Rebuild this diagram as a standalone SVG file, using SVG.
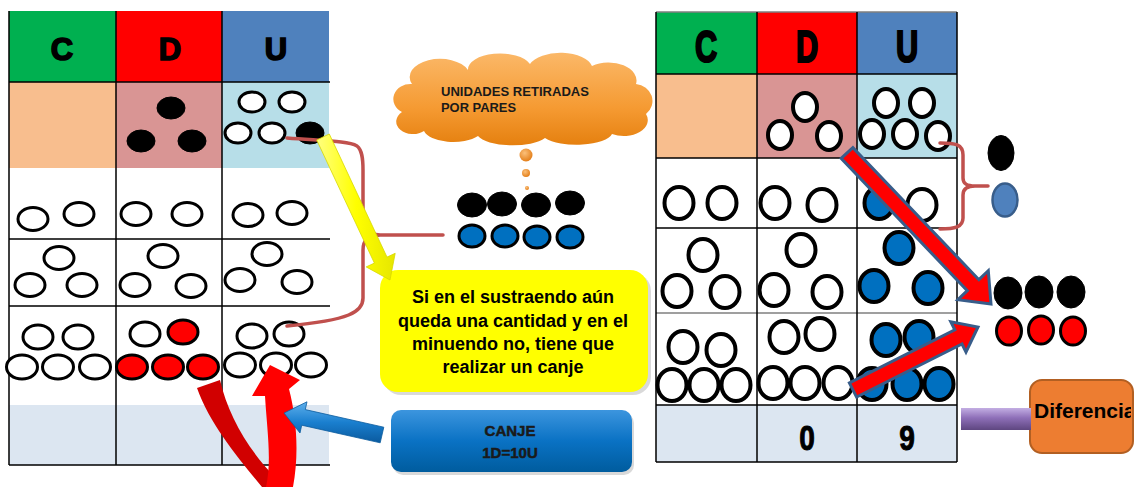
<svg xmlns="http://www.w3.org/2000/svg" width="1135" height="487" viewBox="0 0 1135 487">
<defs>
<style>
.ln{stroke:#000;stroke-width:1.5;fill:none}
.lg{stroke:#808080;stroke-width:1.5;fill:none}
.w{fill:#fff;stroke:#000;stroke-width:3}
.k{fill:#000;stroke:#000;stroke-width:1}
.r{fill:#FF0000;stroke:#000;stroke-width:3}
.bl{fill:#0070C0;stroke:#000;stroke-width:3}
.w4{fill:#fff;stroke:#000;stroke-width:4}
.bl4{fill:#0070C0;stroke:#000;stroke-width:4}
.hdrL{font-family:"Liberation Sans",Arial,sans-serif;font-weight:bold;font-size:31px;text-anchor:middle;fill:#000;stroke:#000;stroke-width:1.6}
.hdrR{font-family:"Liberation Sans",Arial,sans-serif;font-weight:bold;font-size:44px;text-anchor:middle;fill:#000;stroke:#000;stroke-width:2.2}
.num{font-family:"Liberation Sans",Arial,sans-serif;font-weight:bold;font-size:35px;text-anchor:middle;fill:#000;stroke:#000;stroke-width:1}
.note{font-family:"Liberation Sans",Arial,sans-serif;font-weight:bold;font-size:18px;text-anchor:middle;fill:#000}
.sm{font-family:"Liberation Sans",Arial,sans-serif;font-weight:bold;font-size:13px;fill:#1a1a1a}
.brace{fill:none;stroke:#C0504D;stroke-width:3.5;stroke-linecap:round;stroke-linejoin:round}
.rarrow{fill:#FF0000;stroke:#385D8A;stroke-width:3;stroke-linejoin:miter}
</style>
<linearGradient id="gBlue" x1="0" y1="0" x2="0" y2="1">
<stop offset="0" stop-color="#3C95DE"/><stop offset="0.5" stop-color="#0A72C4"/><stop offset="1" stop-color="#005C9E"/>
</linearGradient>
<linearGradient id="gBlueArrow" x1="0" y1="0" x2="0" y2="1">
<stop offset="0" stop-color="#5FB0EC"/><stop offset="0.5" stop-color="#1A7FCF"/><stop offset="1" stop-color="#0A5A9E"/>
</linearGradient>
<linearGradient id="gCloud" x1="0" y1="0" x2="0" y2="1">
<stop offset="0" stop-color="#FBB868"/><stop offset="0.6" stop-color="#F59A32"/><stop offset="1" stop-color="#E5800F"/>
</linearGradient>
<radialGradient id="gBub" cx="0.4" cy="0.35" r="0.7">
<stop offset="0" stop-color="#FBC07A"/><stop offset="1" stop-color="#E27A12"/>
</radialGradient>
<linearGradient id="gYellow" x1="0" y1="0" x2="1" y2="0">
<stop offset="0" stop-color="#FFFF80"/><stop offset="0.5" stop-color="#FFFF00"/><stop offset="1" stop-color="#E6E600"/>
</linearGradient>
<linearGradient id="gPurple" x1="0" y1="0" x2="0" y2="1">
<stop offset="0" stop-color="#C3AEE3"/><stop offset="0.45" stop-color="#8E6FB8"/><stop offset="1" stop-color="#5E4680"/>
</linearGradient>
<clipPath id="difClip"><rect x="1030" y="380" width="101" height="73" rx="12"/></clipPath>
</defs>
<rect width="1135" height="487" fill="#fff"/>

<g id="left-table">
<rect x="9" y="11" width="107" height="71" fill="#00B050"/>
<rect x="116" y="11" width="106" height="71" fill="#FF0000"/>
<rect x="222" y="11" width="107" height="71" fill="#4F81BD"/>
<rect x="9" y="82" width="107" height="86" fill="#F8BE8E"/>
<rect x="116" y="82" width="106" height="86" fill="#D99594"/>
<rect x="222" y="82" width="107" height="86" fill="#B7DEE8"/>
<rect x="9" y="405" width="320" height="60" fill="#DCE6F1"/>
<path class="ln" d="M9,11V465M116,11V465M222,11V465M9,82H330M9,239H330M9,306H330M9,465H330"/>
<text class="hdrL" x="62" y="60">C</text>
<text class="hdrL" x="170" y="60">D</text>
<text class="hdrL" x="276" y="60">U</text>
<ellipse class="k" cx="171" cy="108" rx="14" ry="11"/>
<ellipse class="k" cx="141" cy="141" rx="14" ry="11"/>
<ellipse class="k" cx="192" cy="141" rx="14" ry="11"/>
<ellipse class="w" cx="252" cy="102" rx="13" ry="10"/>
<ellipse class="w" cx="292" cy="102" rx="13" ry="10"/>
<ellipse class="w" cx="238" cy="133" rx="13" ry="10"/>
<ellipse class="w" cx="272" cy="133" rx="13" ry="10"/>
<ellipse class="k" cx="310" cy="133" rx="14" ry="11"/>
<ellipse class="w" cx="33" cy="219" rx="15" ry="11.5"/>
<ellipse class="w" cx="79" cy="214" rx="15" ry="11.5"/>
<ellipse class="w" cx="136" cy="214" rx="15" ry="11.5"/>
<ellipse class="w" cx="187" cy="214" rx="15" ry="11.5"/>
<ellipse class="w" cx="248" cy="215" rx="15" ry="11.5"/>
<ellipse class="w" cx="292" cy="213" rx="15" ry="11.5"/>
<ellipse class="w" cx="59" cy="258" rx="15" ry="11.5"/>
<ellipse class="w" cx="30" cy="285" rx="15" ry="11.5"/>
<ellipse class="w" cx="82" cy="285" rx="15" ry="11.5"/>
<ellipse class="w" cx="163" cy="256" rx="15" ry="11.5"/>
<ellipse class="w" cx="135" cy="285" rx="15" ry="11.5"/>
<ellipse class="w" cx="191" cy="286" rx="15" ry="11.5"/>
<ellipse class="w" cx="267" cy="254" rx="15" ry="11.5"/>
<ellipse class="w" cx="240" cy="280" rx="15" ry="11.5"/>
<ellipse class="w" cx="297" cy="282" rx="15" ry="11.5"/>
<ellipse class="w" cx="38" cy="337" rx="15" ry="12"/>
<ellipse class="w" cx="78" cy="337" rx="15" ry="12"/>
<ellipse class="w" cx="22" cy="367" rx="15.5" ry="12"/>
<ellipse class="w" cx="58" cy="367" rx="15.5" ry="12"/>
<ellipse class="w" cx="95" cy="367" rx="15.5" ry="12"/>
<ellipse class="w" cx="145" cy="334" rx="15" ry="12"/>
<ellipse class="r" cx="183" cy="332" rx="15" ry="12"/>
<ellipse class="r" cx="132" cy="367" rx="15.5" ry="12"/>
<ellipse class="r" cx="168" cy="367" rx="15.5" ry="12"/>
<ellipse class="r" cx="203" cy="367" rx="15.5" ry="12"/>
<ellipse class="w" cx="252" cy="336" rx="15" ry="12"/>
<ellipse class="w" cx="289" cy="334" rx="15" ry="12"/>
<ellipse class="w" cx="240" cy="365" rx="15.5" ry="12"/>
<ellipse class="w" cx="276" cy="365" rx="15.5" ry="12"/>
<ellipse class="w" cx="311" cy="365" rx="15.5" ry="12"/>
</g>

<g id="cloud">
<path fill="url(#gCloud)" d="M402,112 A17,15 0 0 1 412,84 A30,18 0 0 1 468,70 A32,16 0 0 1 530,64 A32,16 0 0 1 592,66 A28,18 0 0 1 636,84 A18,17 0 0 1 646,114 A24,16 0 0 1 612,134 A36,13 0 0 1 545,138 A36,13 0 0 1 478,136 A30,14 0 0 1 424,131 A16,12 0 0 1 402,112 Z"/>
<text class="sm" x="441" y="96" textLength="148" lengthAdjust="spacingAndGlyphs">UNIDADES RETIRADAS</text>
<text class="sm" x="441" y="112" textLength="75" lengthAdjust="spacingAndGlyphs">POR PARES</text>
<circle cx="526" cy="155" r="6.5" fill="url(#gBub)"/>
<circle cx="526" cy="173" r="4" fill="url(#gBub)"/>
<circle cx="527" cy="188" r="2" fill="url(#gBub)"/>
</g>

<g id="removed-pairs">
<ellipse class="k" cx="472" cy="205" rx="14.5" ry="12"/>
<ellipse class="k" cx="502" cy="204" rx="14.5" ry="12"/>
<ellipse class="k" cx="536" cy="205" rx="14.5" ry="12"/>
<ellipse class="k" cx="570" cy="203" rx="14.5" ry="12"/>
<ellipse class="bl" cx="472" cy="236" rx="13" ry="11"/>
<ellipse class="bl" cx="505" cy="236" rx="13" ry="11"/>
<ellipse class="bl" cx="537" cy="237" rx="13" ry="11"/>
<ellipse class="bl" cx="570" cy="237" rx="13" ry="11"/>
</g>

<g id="yellow-note">
<rect x="383" y="273" width="268" height="122" rx="18" fill="#000" opacity="0.15"/>
<rect x="380" y="270" width="268" height="122" rx="18" fill="#FFFF00"/>
<text class="note" x="513" y="303">Si en el sustraendo aún</text>
<text class="note" x="513" y="327">queda una cantidad y en el</text>
<text class="note" x="513" y="350">minuendo no, tiene que</text>
<text class="note" x="513" y="373">realizar un canje</text>
</g>

<g id="canje">
<rect x="393" y="413" width="241" height="62" rx="10" fill="#000" opacity="0.15"/>
<rect x="391" y="410" width="241" height="62" rx="10" fill="url(#gBlue)"/>
<text x="510" y="436" font-family="'Liberation Sans',Arial,sans-serif" font-weight="bold" font-size="15" fill="#1a1a1a" text-anchor="middle" stroke="#1a1a1a" stroke-width="0.5">CANJE</text>
<text x="510" y="458" font-family="'Liberation Sans',Arial,sans-serif" font-weight="bold" font-size="15" fill="#1a1a1a" text-anchor="middle" stroke="#1a1a1a" stroke-width="0.5">1D=10U</text>
</g>

<g id="right-table">
<rect x="656" y="12" width="101" height="62" fill="#00B050"/>
<rect x="757" y="12" width="100" height="62" fill="#FF0000"/>
<rect x="857" y="12" width="100" height="62" fill="#4F81BD"/>
<rect x="656" y="74" width="101" height="84" fill="#F8BE8E"/>
<rect x="757" y="74" width="100" height="84" fill="#D99594"/>
<rect x="857" y="74" width="100" height="84" fill="#B7DEE8"/>
<rect x="656" y="405" width="301" height="57" fill="#DCE6F1"/>
<path class="lg" d="M656,12H957M656,313H957"/>
<path class="ln" d="M656,12V462M757,12V462M857,12V462M957,12V462M656,74H957M656,158H957M656,228H957M656,405H957M656,462H957"/>
<text class="hdrR" transform="translate(706,62) scale(0.7,1)">C</text>
<text class="hdrR" transform="translate(807,62) scale(0.7,1)">D</text>
<text class="hdrR" transform="translate(907,62) scale(0.7,1)">U</text>
<ellipse class="w4" cx="805" cy="107" rx="12" ry="14"/>
<ellipse class="w4" cx="780" cy="135" rx="12" ry="14"/>
<ellipse class="w4" cx="829" cy="136" rx="12" ry="14"/>
<ellipse class="w4" cx="886" cy="103" rx="12" ry="14"/>
<ellipse class="w4" cx="922" cy="103" rx="12" ry="14"/>
<ellipse class="w4" cx="872" cy="134" rx="12" ry="14"/>
<ellipse class="w4" cx="905" cy="134" rx="12" ry="14"/>
<ellipse class="w4" cx="938" cy="136" rx="12" ry="14"/>
<ellipse class="w4" cx="679" cy="203" rx="14.5" ry="16"/>
<ellipse class="w4" cx="722" cy="203" rx="14.5" ry="16"/>
<ellipse class="w4" cx="775" cy="203" rx="14.5" ry="16"/>
<ellipse class="w4" cx="822" cy="205" rx="14.5" ry="16"/>
<ellipse class="bl4" cx="879" cy="203" rx="14.5" ry="16"/>
<ellipse class="w4" cx="922" cy="205" rx="14.5" ry="16"/>
<ellipse class="w4" cx="703" cy="255" rx="14.5" ry="16"/>
<ellipse class="w4" cx="677" cy="291" rx="14.5" ry="16"/>
<ellipse class="w4" cx="725" cy="292" rx="14.5" ry="16"/>
<ellipse class="w4" cx="801" cy="250" rx="14.5" ry="16"/>
<ellipse class="w4" cx="774" cy="290" rx="14.5" ry="16"/>
<ellipse class="w4" cx="827" cy="292" rx="14.5" ry="16"/>
<ellipse class="bl4" cx="899" cy="248" rx="14.5" ry="16"/>
<ellipse class="bl4" cx="874" cy="286" rx="14.5" ry="16"/>
<ellipse class="bl4" cx="928" cy="288" rx="14.5" ry="16"/>
<ellipse class="w4" cx="683" cy="347" rx="14.5" ry="16"/>
<ellipse class="w4" cx="721" cy="350" rx="14.5" ry="16"/>
<ellipse class="w4" cx="672" cy="385" rx="14.5" ry="16"/>
<ellipse class="w4" cx="704" cy="385" rx="14.5" ry="16"/>
<ellipse class="w4" cx="736" cy="385" rx="14.5" ry="16"/>
<ellipse class="w4" cx="784" cy="337" rx="14.5" ry="16"/>
<ellipse class="w4" cx="820" cy="334" rx="14.5" ry="16"/>
<ellipse class="w4" cx="773" cy="383" rx="14.5" ry="16"/>
<ellipse class="w4" cx="805" cy="383" rx="14.5" ry="16"/>
<ellipse class="w4" cx="838" cy="383" rx="14.5" ry="16"/>
<ellipse class="bl4" cx="886" cy="340" rx="14.5" ry="16"/>
<ellipse class="bl4" cx="919" cy="337" rx="14.5" ry="16"/>
<ellipse class="bl4" cx="872" cy="384" rx="14.5" ry="16"/>
<ellipse class="bl4" cx="907" cy="384" rx="14.5" ry="16"/>
<ellipse class="bl4" cx="939" cy="384" rx="14.5" ry="16"/>
<text class="num" transform="translate(807,450) scale(0.8,1)">0</text>
<text class="num" transform="translate(907,450) scale(0.8,1)">9</text>
</g>

<g id="right-dots">
<ellipse class="k" cx="1001" cy="153" rx="13" ry="17.5"/>
<ellipse cx="1005" cy="200" rx="12.5" ry="16.5" fill="#4F81BD" stroke="#385D8A" stroke-width="2.5"/>
<ellipse class="k" cx="1008" cy="293" rx="14" ry="16"/>
<ellipse class="k" cx="1039" cy="292" rx="14" ry="16"/>
<ellipse class="k" cx="1071" cy="292" rx="14" ry="16"/>
<ellipse class="r" cx="1009" cy="331" rx="12.5" ry="14" stroke-width="3.5"/>
<ellipse class="r" cx="1041" cy="330" rx="12.5" ry="14" stroke-width="3.5"/>
<ellipse class="r" cx="1073" cy="331" rx="12.5" ry="14" stroke-width="3.5"/>
</g>

<g id="diferencia">
<rect x="1030" y="380" width="103" height="73" rx="12" fill="#ED7D31" stroke="#B25F22" stroke-width="2"/>
<text clip-path="url(#difClip)" x="1034" y="418" font-family="'Liberation Sans',Arial,sans-serif" font-weight="bold" font-size="21" fill="#000">Diferencia</text>
</g>

<g id="connectors">
<path class="brace" d="M287,138 C325,141 348,141 357,146 C362,150 363,158 363,170 L363,220 C363,230 368,234 380,235 L443,235 M380,235 C368,236 363,240 363,250 L363,298 C363,312 350,320 287,326"/>
<polygon fill="url(#gYellow)" stroke="#D8D800" stroke-width="0.8" points="316.7,140 329.3,134 387,257.1 395.2,253.3 390,280 366.2,266.9 374.4,263.1"/>
<path fill="#D10000" d="M197,388 L220,380 C228,415 248,450 276,478 L268,487 L262,487 C240,460 210,425 197,388 Z"/>
<path fill="#FF0000" d="M266,487 C272,460 267,430 265,396 L252,396 L270,365 L300,380 L289,389 C297,420 299,455 293,487 Z"/>
<polygon fill="url(#gBlueArrow)" stroke="#0B5C9E" stroke-width="0.8" points="383.8,427.2 305.3,409.6 307,401.8 284,413 300,433 301.7,425.2 380.2,442.8"/>
<path class="brace" d="M940,143 C955,143 963,144 963,155 L963,178 C963,184 967,186 975,186 L988,186 M975,186 C967,186 963,189 963,195 L963,218 C963,227 955,229 940,229"/>
<polygon class="rarrow" points="841.1,158.4 852.9,147.6 978.9,279.7 988.3,270.7 991,304 957.9,299.7 967.3,290.7"/>
<polygon class="rarrow" points="856.6,397.1 849.4,382.9 954.8,329.8 950.8,321.7 978,327 966,352.1 962,344"/>
<rect x="961" y="408" width="70" height="22" fill="url(#gPurple)"/>
</g>
</svg>
